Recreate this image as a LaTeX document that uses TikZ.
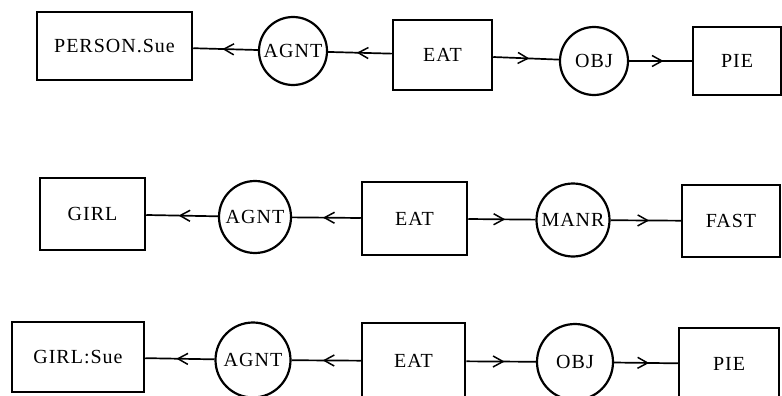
\documentclass[tikz,border=0pt]{standalone}
\usepackage{fontspec}
\setmainfont{Liberation Serif}[LetterSpace=5]
\usetikzlibrary{arrows.meta,decorations.markings}

\begin{document}
\begin{tikzpicture}[x=1pt, y=-1pt,
    font=\fontsize{20}{22}\selectfont,
    concept/.style={draw, line width=2.5pt, rectangle, inner sep=0pt},
    relation/.style={draw, line width=2.2pt, circle, inner sep=0pt, minimum size=#1},
    link/.style={line width=1.7pt,
      decoration={markings, mark=at position 0.55 with
        {\arrow{Straight Barb[length=10pt, width=11pt, line width=1.5pt]}}},
      postaction={decorate}}]
  \clip (0,0) rectangle (782,396);
  % Row 1
  \node[concept, minimum width=155pt, minimum height=68pt] (pers) at (114.5,46) {PERSON.Sue};
  \node[relation=68pt] (agnt1) at (293,51) {AGNT};
  \node[concept, minimum width=99pt, minimum height=70pt] (eat1) at (442.5,55) {EAT};
  \node[relation=68pt] (obj1) at (594,61) {OBJ};
  \node[concept, minimum width=88pt, minimum height=68pt] (pie1) at (737,61) {PIE};
  \draw[link] (agnt1) -- (pers);
  \draw[link] (eat1) -- (agnt1);
  \draw[link] (eat1) -- (obj1);
  \draw[link] (obj1) -- (pie1);
  % Row 2
  \node[concept, minimum width=105pt, minimum height=72pt] (girl) at (92.5,214) {GIRL};
  \node[relation=72pt] (agnt2) at (255,217) {AGNT};
  \node[concept, minimum width=105pt, minimum height=73pt] (eat2) at (414.5,218.5) {EAT};
  \node[relation=73pt] (manr) at (573,220) {MANR};
  \node[concept, minimum width=98pt, minimum height=72pt] (fast) at (731,221) {FAST};
  \draw[link] (agnt2) -- (girl);
  \draw[link] (eat2) -- (agnt2);
  \draw[link] (eat2) -- (manr);
  \draw[link] (manr) -- (fast);
  % Row 3
  \node[concept, minimum width=132pt, minimum height=70pt] (girlsue) at (78,357) {GIRL:Sue};
  \node[relation=75pt] (agnt3) at (253,360) {AGNT};
  \node[concept, minimum width=103pt, minimum height=76pt] (eat3) at (413.5,361) {EAT};
  \node[relation=76pt] (obj3) at (575,362) {OBJ};
  \node[concept, minimum width=100pt, minimum height=72pt] (pie3) at (729,364) {PIE};
  \draw[link] (agnt3) -- (girlsue);
  \draw[link] (eat3) -- (agnt3);
  \draw[link] (eat3) -- (obj3);
  \draw[link] (obj3) -- (pie3);
\end{tikzpicture}
\end{document}
